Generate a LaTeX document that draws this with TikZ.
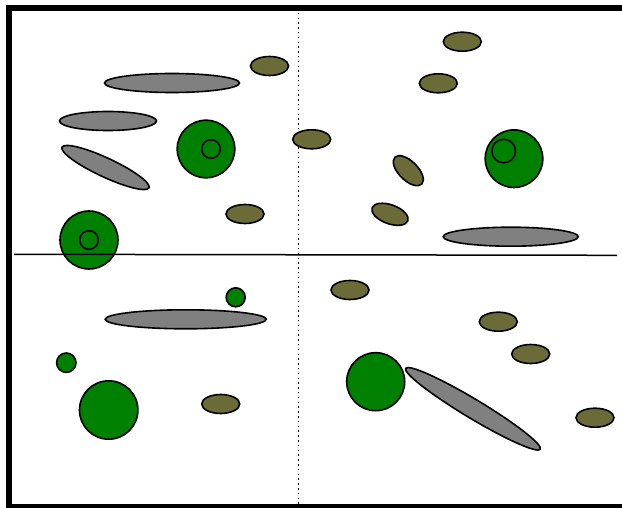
\documentclass[tikz,border=0pt]{standalone}
\usepackage{xcolor}
\usepackage{tikz}
\definecolor{cellgreen}{HTML}{008000}
\definecolor{cellolive}{HTML}{6B6B38}
\definecolor{cellgray}{HTML}{808080}

\begin{document}
\begin{tikzpicture}[x=1pt, y=-1pt,
  grain/.style={draw=black, line width=1.6pt, fill=cellolive},
  blob/.style={draw=black, line width=1.6pt, fill=cellgreen},
  rod/.style={draw=black, line width=1.6pt, fill=cellgray},
  ring/.style={draw=black, line width=1.6pt}]
  \useasboundingbox (0,0) rectangle (622,508);
  % dotted divider between left and right
  \draw[line width=1pt, dash pattern=on 1.5pt off 3.3pt] (298.5,8) -- (298.5,507);
  % grey rods: centre, half axes, tilt
  \foreach \x/\y/\a/\b/\r in {172/83/67.5/9.5/0, 108/121/48.5/9.5/0, 105.5/167.5/48/9.5/-25,
                             510.7/236.7/67.5/9.5/0, 185.7/319.3/80.5/9.5/0, 473/408.8/78.5/9.5/-31}
    \draw[rod, shift={(\x,\y)}, rotate=\r] (0,0) ellipse [x radius=\a, y radius=\b];
  % olive grains
  \foreach \x/\y/\r in {269.5/66/0, 245/214/0, 311.7/139.3/0, 462.3/41.7/0, 438.3/83.3/0,
                        408.3/170.7/-45, 390/214.3/-20, 350/290/0, 498.3/321.7/0,
                        530.7/354/0, 595/417.7/0, 220.7/404/0}
    \draw[grain, shift={(\x,\y)}, rotate=\r] (0,0) ellipse [x radius=19, y radius=9.5];
  % green cells
  \foreach \x/\y/\s in {206/149/28.8, 89/240/29, 514/158.7/28.8, 235.7/297.3/9.5,
                        66.3/362.7/9.7, 108.7/410/29.2, 375.7/381.7/29}
    \draw[blob] (\x,\y) circle [radius=\s];
  % nuclei
  \foreach \x/\y/\s in {211/149/9.3, 89/240/9.3, 503.7/151/11.8}
    \draw[ring] (\x,\y) circle [radius=\s];
  % horizontal divider
  \draw[line width=1.5pt] (14,254.3) -- (617,255.3);
  % outer frame, open to the right
  \draw[line width=6pt] (9,8) rectangle (628,507);
\end{tikzpicture}
\end{document}
